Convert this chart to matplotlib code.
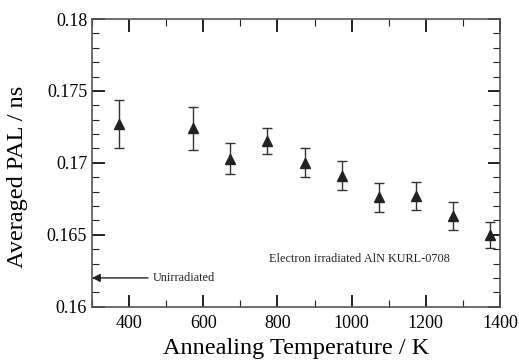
import matplotlib.pyplot as plt
from matplotlib.ticker import MultipleLocator

plt.rcParams["font.family"] = ["Liberation Serif", "DejaVu Serif"]

temperature = [373, 573, 673, 773, 873, 973, 1073, 1173, 1273, 1373]
pal = [0.1727, 0.1724, 0.1703, 0.1715, 0.1700, 0.1691, 0.1676, 0.1677, 0.1663, 0.1650]
pal_err = [0.0017, 0.0015, 0.0011, 0.0009, 0.0010, 0.0010, 0.0010, 0.0010, 0.0010, 0.0009]
unirradiated = 0.162

fig = plt.figure(figsize=(5.19, 3.61), dpi=100)
ax = fig.add_axes([92 / 519, 1 - 306.7 / 361, 408 / 519, 287.7 / 361])

ax.errorbar(temperature, pal, yerr=pal_err, fmt="^", color="#222222", ecolor="#333333",
            markersize=7.5, capsize=3.6, elinewidth=1.0, capthick=1.0)

ax.annotate("", xy=(300, unirradiated), xytext=(451, unirradiated),
            arrowprops=dict(arrowstyle="-|>", color="#222222", lw=1.0,
                            mutation_scale=12, shrinkA=0, shrinkB=0))
ax.text(465, unirradiated, "Unirradiated", fontsize=8.8, va="center", ha="left", color="#222222")
ax.text(777, 0.16332, "Electron irradiated AlN KURL-0708", fontsize=8.8, va="center", ha="left",
        color="#222222")

ax.set_xlim(300, 1400)
ax.set_ylim(0.16, 0.18)
ax.xaxis.set_major_locator(MultipleLocator(200))
ax.xaxis.set_minor_locator(MultipleLocator(100))
ax.yaxis.set_major_locator(MultipleLocator(0.005))
ax.yaxis.set_minor_locator(MultipleLocator(0.001))
ax.set_yticks([0.16, 0.165, 0.17, 0.175, 0.18])
ax.set_yticklabels(["0.16", "0.165", "0.17", "0.175", "0.18"])

ax.tick_params(which="both", direction="in", top=True, right=True, labelsize=13, color="#222222")
ax.tick_params(axis="x", which="major", pad=6)
ax.tick_params(which="major", length=9, width=1.4)
ax.tick_params(which="minor", length=5, width=0.8)
for spine in ax.spines.values():
    spine.set_color("#555555")
    spine.set_linewidth(1.2)

ax.set_xlabel("Annealing Temperature / K", fontsize=17.5, labelpad=4)
ax.set_ylabel("Averaged PAL / ns", fontsize=17.5)
ax.yaxis.set_label_coords(-0.158, 0.45)

plt.savefig("out.png", dpi=100, facecolor="white")
